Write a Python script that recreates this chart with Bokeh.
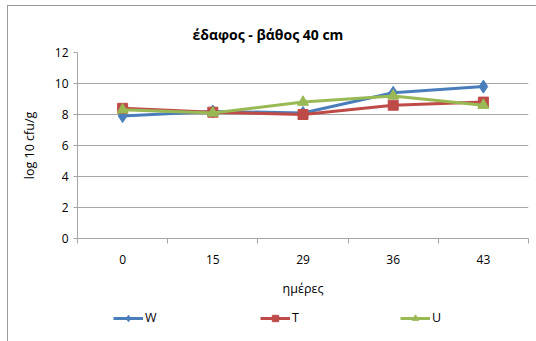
from bokeh.plotting import figure
from bokeh.layouts import column
from bokeh.models import FixedTicker, Legend, LegendItem, Title
from bokeh.embed import file_html
from bokeh.resources import INLINE

# sampling days and measured counts (log10 cfu/g), soil at 40 cm depth
days = ["0", "15", "29", "36", "43"]
w_vals = [7.9, 8.2, 8.1, 9.4, 9.8]
t_vals = [8.4, 8.15, 8.0, 8.6, 8.8]
u_vals = [8.3, 8.1, 8.8, 9.2, 8.6]
y_ticks = [0, 2, 4, 6, 8, 10, 12]

xs = list(range(len(days)))
FONT = "Open Sans"
GRID = "#a6a6a6"

p = figure(
    width=528, height=295,
    x_range=(-0.5, len(days) - 0.5), y_range=(0, 12),
    output_backend="svg", toolbar_location=None,
    min_border_left=69, min_border_right=8,
    min_border_top=46, min_border_bottom=63,
)
p.outline_line_color = None
p.background_fill_color = "white"
p.border_fill_color = "white"

title = Title(text="έδαφος - βάθος 40  cm", align="left", offset=115,
              text_font=FONT, text_font_size="14px", text_font_style="bold",
              text_color="#000000", standoff=18)
p.add_layout(title, "above")

# x axis: labels at category centres, tick marks on category boundaries
p.xaxis.ticker = FixedTicker(ticks=xs, minor_ticks=[i - 0.5 for i in range(len(days) + 1)])
p.xaxis.major_label_overrides = {i: d for i, d in enumerate(days)}
p.xaxis.major_tick_line_color = None
p.xaxis.major_tick_out = 5
p.xaxis.major_tick_in = 0
p.xaxis.minor_tick_line_color = GRID
p.xaxis.minor_tick_out = 5
p.xaxis.minor_tick_in = 0
p.xaxis.major_label_standoff = 11
p.xaxis.axis_label = "ημέρες"
p.xaxis.axis_label_standoff = 13
p.xaxis.axis_line_color = GRID

p.yaxis.ticker = FixedTicker(ticks=y_ticks)
p.yaxis.major_tick_out = 4
p.yaxis.major_tick_in = 0
p.yaxis.major_tick_line_color = GRID
p.yaxis.minor_tick_line_color = None
p.yaxis.axis_line_color = GRID
p.yaxis.major_label_standoff = 5
p.yaxis.axis_label = "log 10 cfu/g"
p.yaxis.axis_label_standoff = 14

for ax in (p.xaxis, p.yaxis):
    ax.major_label_text_font = FONT
    ax.major_label_text_font_size = "12px"
    ax.major_label_text_color = "#000000"
    ax.axis_label_text_font = FONT
    ax.axis_label_text_font_size = "12.5px"
    ax.axis_label_text_font_style = "normal"
    ax.axis_label_text_color = "#000000"

p.xgrid.grid_line_color = None
p.ygrid.ticker = FixedTicker(ticks=y_ticks[1:])
p.ygrid.grid_line_color = GRID
p.ygrid.grid_line_width = 1

series = [
    ("W", w_vals, "#4a7ebb", "diamond", 13),
    ("T", t_vals, "#be4b48", "square", 10),
    ("U", u_vals, "#98b954", "triangle", 11),
]

# legend strip under the chart; its series sit outside its view range
leg_fig = figure(
    width=528, height=40, x_range=(-10, -9), y_range=(-10, -9),
    output_backend="svg", toolbar_location=None,
    min_border=0,
)
leg_fig.axis.visible = False
leg_fig.grid.visible = False
leg_fig.outline_line_color = None
leg_fig.background_fill_color = "white"
leg_fig.border_fill_color = "white"

legend_x = [36, 183, 323]
for (name, vals, color, marker, size), lx in zip(series, legend_x):
    p.line(xs, vals, line_color=color, line_width=3)
    p.scatter(xs, vals, marker=marker, size=size, fill_color=color, line_color=color)
    ln = leg_fig.line(xs, vals, line_color=color, line_width=3)
    sc = leg_fig.scatter(xs, vals, marker=marker, size=size, fill_color=color, line_color=color)
    leg = Legend(items=[LegendItem(label=name, renderers=[ln, sc])],
                 location=(lx, 15), orientation="horizontal",
                 border_line_color=None, background_fill_alpha=0,
                 glyph_width=30, glyph_height=16, label_standoff=2,
                 padding=0, margin=0,
                 label_text_font=FONT, label_text_font_size="12.5px",
                 label_text_color="#000000")
    leg_fig.add_layout(leg, "center")

page = column(p, leg_fig, spacing=0)
page.margin = (5, 0, 0, 7)
page.styles = {"border-left": "1px solid #9a9a9a", "border-top": "1px solid #9a9a9a"}

open("out.html", "w").write(file_html(page, INLINE))
